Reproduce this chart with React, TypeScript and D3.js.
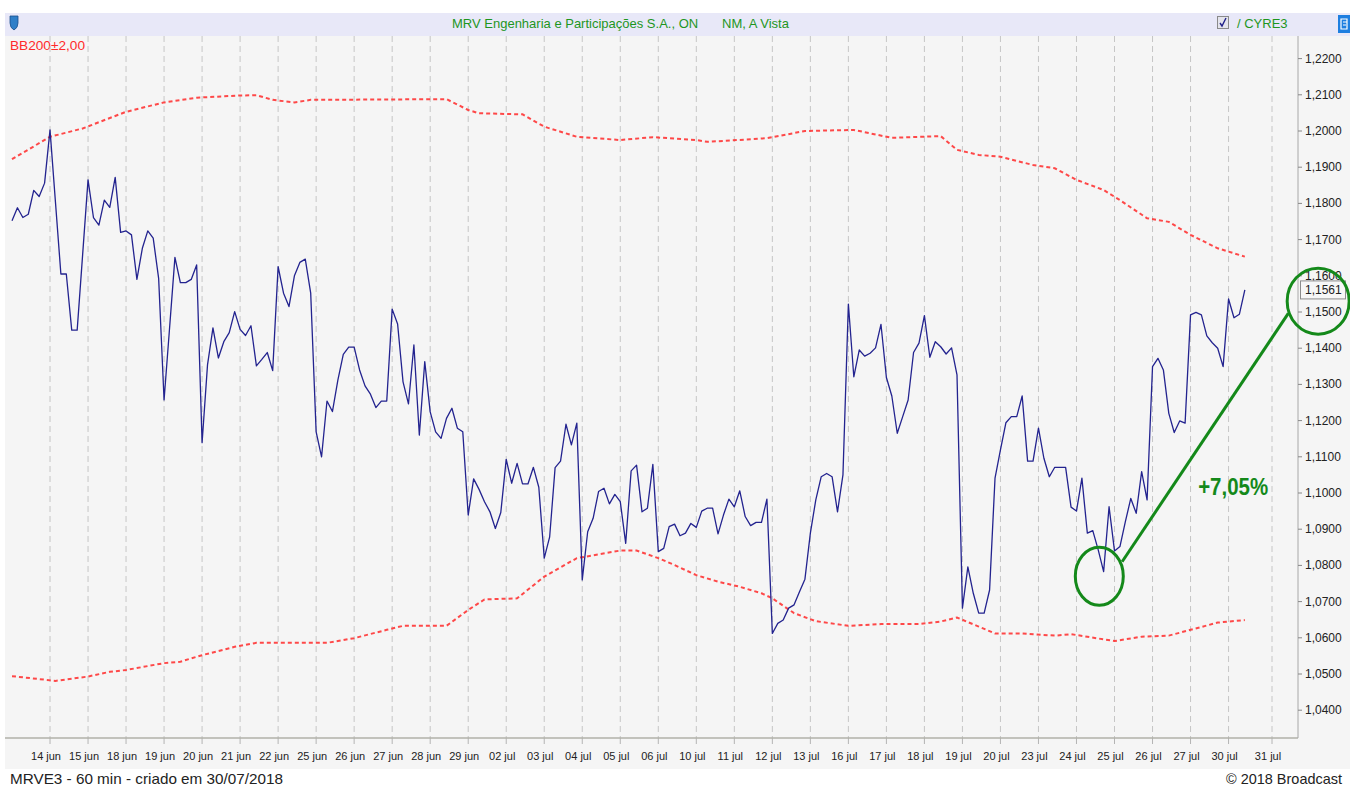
import * as d3 from "d3";

// 60 min closes, MRVE3 / CYRE3 ratio, 13 jun -> 30 jul (7 bars per session)
const closes = [
  1.1752, 1.1788, 1.1761, 1.177, 1.1836, 1.1819, 1.1856,
  1.2003, 1.1804, 1.1605, 1.1605, 1.145, 1.145, 1.1657,
  1.1865, 1.1761, 1.174, 1.1809, 1.1789, 1.1872, 1.172,
  1.1724, 1.1713, 1.159, 1.1676, 1.1724, 1.1704, 1.1593,
  1.1257, 1.1453, 1.1651, 1.1581, 1.1581, 1.159, 1.163,
  1.1139, 1.1354, 1.1456, 1.1373, 1.1418, 1.1443, 1.1501,
  1.1452, 1.1435, 1.1462, 1.1351, 1.1369, 1.1388, 1.1338,
  1.1625, 1.1552, 1.1515, 1.16, 1.1637, 1.1646, 1.1552,
  1.1169, 1.11, 1.1254, 1.1225, 1.1312, 1.1383, 1.1403,
  1.1403, 1.134, 1.1296, 1.1273, 1.1236, 1.1254, 1.1254,
  1.1508, 1.1467, 1.1307, 1.1246, 1.1409, 1.116, 1.1363,
  1.1224, 1.1169, 1.1151, 1.1206, 1.1234, 1.1179, 1.1169,
  1.0939, 1.1039, 1.101, 1.0976, 1.0948, 1.0902, 1.0946,
  1.1093, 1.1027, 1.1082, 1.1025, 1.1025, 1.1071, 1.1016,
  1.082, 1.0879, 1.107, 1.1088, 1.119, 1.1133, 1.1193,
  1.076, 1.0893, 1.093, 1.1004, 1.1013, 1.097, 1.0996,
  1.0976, 1.0861, 1.1061, 1.1077, 1.0948, 1.0958, 1.1079,
  1.0838, 1.0847, 1.0907, 1.0914, 1.0882, 1.0889, 1.0916,
  1.0905, 1.095, 1.0958, 1.0958, 1.0887, 1.0939, 1.0983,
  1.0962, 1.1006, 1.0935, 1.091, 1.0919, 1.0919, 1.0983,
  1.0612, 1.064, 1.0649, 1.0682, 1.0691, 1.0727, 1.0762,
  1.0889, 1.0981, 1.1045, 1.1054, 1.1045, 1.0948, 1.105,
  1.1522, 1.1321, 1.1395, 1.1378, 1.1386, 1.1401, 1.1466,
  1.1319, 1.1268, 1.1165, 1.1211, 1.1257, 1.1388, 1.1414,
  1.149, 1.1375, 1.1418, 1.1404, 1.1384, 1.1401, 1.1326,
  1.0682, 1.0796, 1.0723, 1.0668, 1.0668, 1.0732, 1.1041,
  1.1119, 1.1194, 1.1211, 1.1211, 1.1268, 1.1088, 1.1088,
  1.1179, 1.1096, 1.1045, 1.1071, 1.1071, 1.1071, 1.0961,
  1.095, 1.1041, 1.0889, 1.0896, 1.0843, 1.0783, 1.0962,
  1.084, 1.0852, 1.0921, 1.0985, 1.0944, 1.1059, 1.0981,
  1.1349, 1.1372, 1.134, 1.122, 1.1167, 1.1199, 1.1193,
  1.1492, 1.1499, 1.1492, 1.1434, 1.1415, 1.14, 1.1349,
  1.1536, 1.1484, 1.1494, 1.1561,
];

// Bollinger bands (200, ±2), read at bar indices
const upperIdx = [0, 7, 13, 21, 28, 34, 42, 45, 48, 52, 55, 80, 84, 86, 94, 98, 104, 112, 118, 126, 128, 139, 146, 155, 162, 171, 174, 178, 182, 188, 192, 196, 201, 204, 209, 213, 217, 222, 227];
const upperVals = [1.1922, 1.1984, 1.2007, 1.2053, 1.2079, 1.2092, 1.2098, 1.2099, 1.2086, 1.2079, 1.2086, 1.2088, 1.2058, 1.2049, 1.2046, 1.2012, 1.1984, 1.1975, 1.1983, 1.1975, 1.197, 1.198, 1.2, 1.2003, 1.1981, 1.1986, 1.1948, 1.1934, 1.1929, 1.1906, 1.1897, 1.1865, 1.1837, 1.1809, 1.1759, 1.1749, 1.1713, 1.1676, 1.1653];
const lowerIdx = [0, 8, 14, 18, 21, 28, 31, 35, 41, 45, 58, 63, 69, 72, 80, 84, 87, 93, 98, 104, 112, 115, 119, 122, 126, 130, 134, 138, 140, 144, 148, 154, 160, 167, 171, 174, 178, 181, 186, 192, 195, 203, 208, 213, 217, 222, 227];
const lowerVals = [1.0494, 1.0481, 1.0493, 1.0506, 1.0511, 1.053, 1.0534, 1.0552, 1.0575, 1.0586, 1.0586, 1.0599, 1.0622, 1.0633, 1.0633, 1.0677, 1.0706, 1.0709, 1.0769, 1.082, 1.0841, 1.0841, 1.082, 1.0801, 1.0773, 1.0755, 1.0741, 1.0723, 1.0709, 1.0668, 1.0646, 1.0633, 1.0638, 1.0638, 1.0645, 1.0656, 1.0631, 1.0612, 1.0612, 1.0606, 1.061, 1.0591, 1.0603, 1.0606, 1.0622, 1.0642, 1.0649];

const dayLabels = ["14 jun", "15 jun", "18 jun", "19 jun", "20 jun", "21 jun", "22 jun", "25 jun", "26 jun", "27 jun", "28 jun", "29 jun", "02 jul", "03 jul", "04 jul", "05 jul", "06 jul", "10 jul", "11 jul", "12 jul", "13 jul", "16 jul", "17 jul", "18 jul", "19 jul", "20 jul", "23 jul", "24 jul", "25 jul", "26 jul", "27 jul", "30 jul", "31 jul"];
const yTicks = [1.04, 1.05, 1.06, 1.07, 1.08, 1.09, 1.1, 1.11, 1.12, 1.13, 1.14, 1.15, 1.16, 1.17, 1.18, 1.19, 1.2, 1.21, 1.22];

const barsPerDay = 7;
const lastTickIdx = 232; // 31 jul, future session

const W = 1350;
const H = 790;
const axisX = 1298;
const plotTop = 36;
const plotBottom = 738;
const font = "'Liberation Sans', Arial, sans-serif";
const green = "#14891a";

const fmt = d3.formatLocale({ decimal: ",", thousands: ".", grouping: [3], currency: ["R$", ""] }).format(".4f");

export default function App() {
  const x = d3.scaleLinear().domain([0, lastTickIdx]).range([12, 1272]);
  const y = d3.scaleLinear().domain([1.04, 1.22]).range([710.2, 58.6]);

  const tickIdx = dayLabels.map((_, k) => (k < dayLabels.length - 1 ? (k + 1) * barsPerDay : lastTickIdx));

  const closeLine = d3.line<number>().x((_, i) => x(i)).y((d) => y(d))(closes) || "";
  const band = d3
    .line<[number, number]>()
    .x((d) => x(d[0]))
    .y((d) => y(d[1]));
  const upperPath = band(upperIdx.map((i, k) => [i, upperVals[k]] as [number, number])) || "";
  const lowerPath = band(lowerIdx.map((i, k) => [i, lowerVals[k]] as [number, number])) || "";

  const last = closes[closes.length - 1];

  // annotation: low on 25 jul -> last close
  const lowC = { cx: x(200.2), cy: y(1.077) };
  const hiC = { cx: x(240.5), cy: y(1.153) };

  return (
    <div style={{ position: "absolute", left: 0, top: 0 }}>
      <svg width={W} height={H} viewBox={`0 0 ${W} ${H}`} style={{ display: "block", background: "#fff" }}>
        {/* header */}
        <rect x={5} y={13} width={W - 5} height={23} fill="#e8e8f8" />
        <rect x={5} y={plotTop} width={W - 5} height={733} fill="#f5f5f5" />
        <path d="M10,16 h8 v7 q0,5 -4,7 q-4,-2 -4,-7 z" fill="#2f7fc8" stroke="#1a4f8a" strokeWidth={0.8} />
        <text x={452} y={28} fontFamily={font} fontSize={13} fill="#1e961e">
          MRV Engenharia e Participações S.A., ON
        </text>
        <text x={722} y={28} fontFamily={font} fontSize={13} fill="#1e961e">
          NM, A Vista
        </text>
        <rect x={1217.5} y={16.5} width={11} height={12} fill="#e4e4ec" stroke="#8a8a8a" />
        <path d="M1220,23 l2,3 l4,-8" fill="none" stroke="#22228a" strokeWidth={1.4} />
        <text x={1237} y={28} fontFamily={font} fontSize={13} fill="#1e961e">
          / CYRE3
        </text>
        <rect x={1338} y={15} width={12} height={18} fill="#1e7fe0" />
        <path d="M1341,19 h6 v10 h-6 z M1343,22 h4 M1343,25 h3" fill="none" stroke="#fff" strokeWidth={1.2} />

        <text x={10} y={50} fontFamily={font} fontSize={13} fill="#ff2a2a" textLength={75} lengthAdjust="spacingAndGlyphs">
          BB200±2,00
        </text>

        {/* grid */}
        {tickIdx.map((t, k) => (
          <g key={k}>
            <line x1={x(t)} x2={x(t)} y1={plotTop} y2={plotBottom} stroke="#c6c6c6" strokeDasharray="6 4" />
            <line x1={x(t)} x2={x(t)} y1={plotBottom} y2={744} stroke="#b4b4b4" />
            <text x={x(t) - 4} y={760} textAnchor="middle" fontFamily={font} fontSize={11} fill="#222">
              {dayLabels[k]}
            </text>
          </g>
        ))}

        {/* axes */}
        <line x1={5} x2={axisX} y1={plotBottom} y2={plotBottom} stroke="#b0b0a8" strokeWidth={1.5} />
        <line x1={axisX} x2={axisX} y1={plotTop} y2={plotBottom} stroke="#a8a8a8" />
        {yTicks.map((v) => (
          <g key={v}>
            <line x1={axisX} x2={axisX + 4} y1={y(v)} y2={y(v)} stroke="#888" />
            <text x={1305} y={y(v) + 4} fontFamily={font} fontSize={12} fill="#222">
              {fmt(v)}
            </text>
          </g>
        ))}

        {/* bands and price */}
        <path d={upperPath} fill="none" stroke="#ff3535" strokeWidth={2} strokeDasharray="4 3" opacity={0.9} />
        <path d={lowerPath} fill="none" stroke="#ff3535" strokeWidth={2} strokeDasharray="4 3" opacity={0.9} />
        <path d={closeLine} fill="none" stroke="#23238f" strokeWidth={1.3} strokeLinejoin="round" />

        {/* last value box */}
        <rect x={1300.5} y={y(last) - 9} width={45} height={18} fill="#f7f7f7" stroke="#8c8c8c" />
        <text x={1305} y={y(last) + 4.5} fontFamily={font} fontSize={12} fill="#222">
          {fmt(last)}
        </text>

        {/* annotation */}
        <ellipse cx={lowC.cx} cy={lowC.cy} rx={24} ry={29} fill="none" stroke={green} strokeWidth={3} />
        <ellipse cx={hiC.cx} cy={hiC.cy} rx={31} ry={33} fill="none" stroke={green} strokeWidth={3} />
        <line x1={x(204.4)} y1={y(1.081)} x2={x(235)} y2={y(1.1496)} stroke={green} strokeWidth={3} />
        <text x={x(218.4)} y={y(1.0994)} fontFamily={font} fontSize={23} fontWeight="bold" fill={green} textLength={70} lengthAdjust="spacingAndGlyphs">
          +7,05%
        </text>

        {/* footer */}
        <rect x={0} y={769} width={W} height={21} fill="#fff" />
        <text x={10} y={784} fontFamily={font} fontSize={15} fill="#222" textLength={273} lengthAdjust="spacingAndGlyphs">
          MRVE3 - 60 min - criado em 30/07/2018
        </text>
        <text x={1226} y={784} fontFamily={font} fontSize={15} fill="#222" textLength={116} lengthAdjust="spacingAndGlyphs">
          © 2018 Broadcast
        </text>
      </svg>
    </div>
  );
}
